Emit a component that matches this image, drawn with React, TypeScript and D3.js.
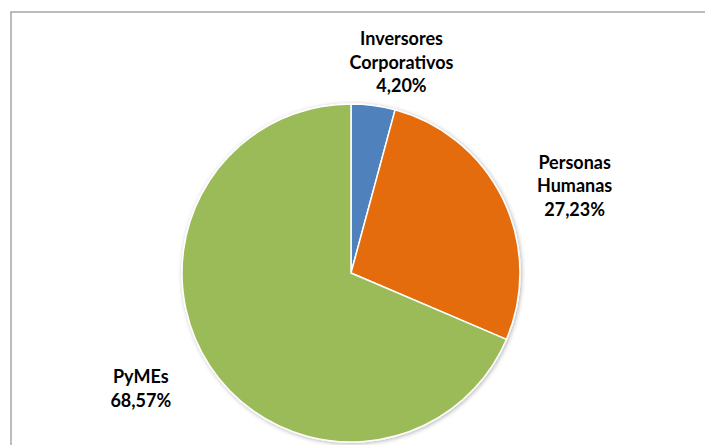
import { useEffect, useRef } from "react";
import * as d3 from "d3";

const categories = ["Inversores Corporativos", "Personas Humanas", "PyMEs"];
const labelLines = [["Inversores", "Corporativos"], ["Personas", "Humanas"], ["PyMEs"]];
const shares = [4.2, 27.23, 68.57];
const percentLabels = ["4,20%", "27,23%", "68,57%"];
const colors = ["#4F81BD", "#E46C0A", "#9BBB59"];

type Slice = { category: string; value: number; lines: string[]; pct: string };

export default function App() {
  const ref = useRef<SVGSVGElement>(null);

  useEffect(() => {
    const svg = d3.select(ref.current);
    svg.selectAll("*").remove();
    const width = 705;
    const height = 445;
    svg.attr("width", width).attr("height", height);

    const defs = svg.append("defs");
    const f = defs
      .append("filter")
      .attr("id", "pieShadow")
      .attr("x", "-10%")
      .attr("y", "-10%")
      .attr("width", "120%")
      .attr("height", "120%");
    f.append("feDropShadow")
      .attr("dx", 1)
      .attr("dy", 1)
      .attr("stdDeviation", 2)
      .attr("flood-color", "#000")
      .attr("flood-opacity", 0.3);

    svg.append("rect").attr("width", width).attr("height", height).attr("fill", "#fff");
    // chart area border (right and bottom edges fall outside the view)
    svg
      .append("rect")
      .attr("x", 11)
      .attr("y", 12)
      .attr("width", width + 20)
      .attr("height", height + 20)
      .attr("fill", "none")
      .attr("stroke", "#a6a6a6")
      .attr("stroke-width", 1.5);

    const data: Slice[] = categories.map((c, i) => ({
      category: c,
      value: shares[i],
      lines: labelLines[i],
      pct: percentLabels[i],
    }));

    const cx = 351;
    const cy = 273;
    const radius = 169;

    const color = d3.scaleOrdinal<string, string>().domain(categories).range(colors);
    const pie = d3.pie<Slice>().sort(null).value((d) => d.value);
    const arc = d3.arc<d3.PieArcDatum<Slice>>().innerRadius(0).outerRadius(radius);
    const arcs = pie(data);

    const g = svg.append("g").attr("transform", `translate(${cx},${cy})`);
    g.append("g")
      .attr("filter", "url(#pieShadow)")
      .selectAll("path")
      .data(arcs)
      .enter()
      .append("path")
      .attr("d", arc)
      .attr("fill", (d) => color(d.data.category))
      .attr("stroke", "#fff")
      .attr("stroke-width", 1.5)
      .attr("stroke-linejoin", "round");

    const lineH = 23.5;
    const labelR = 240;
    const shift = 0.08;
    const topLimit = 27;

    arcs.forEach((d) => {
      const lines = [...d.data.lines, d.data.pct];
      const a = (d.startAngle + d.endAngle) / 2 + shift;
      const x = Math.sin(a) * labelR;
      let y = -Math.cos(a) * labelR;
      const h = lines.length * lineH;
      // keep label inside the chart area
      if (cy + y - h / 2 < topLimit) y = topLimit + h / 2 - cy;
      const t = g
        .append("text")
        .attr("text-anchor", "middle")
        .attr("font-family", "Lato, 'Open Sans', sans-serif")
        .attr("font-weight", "bold")
        .attr("font-size", 18)
        .attr("fill", "#000");
      lines.forEach((ln, i) => {
        t.append("tspan")
          .attr("x", x)
          .attr("y", y - h / 2 + lineH * (i + 0.5))
          .attr("dy", "0.35em")
          .text(ln);
      });
    });
  }, []);

  return (
    <svg
      ref={ref}
      style={{ position: "absolute", left: 0, top: 0, display: "block" }}
    ></svg>
  );
}
